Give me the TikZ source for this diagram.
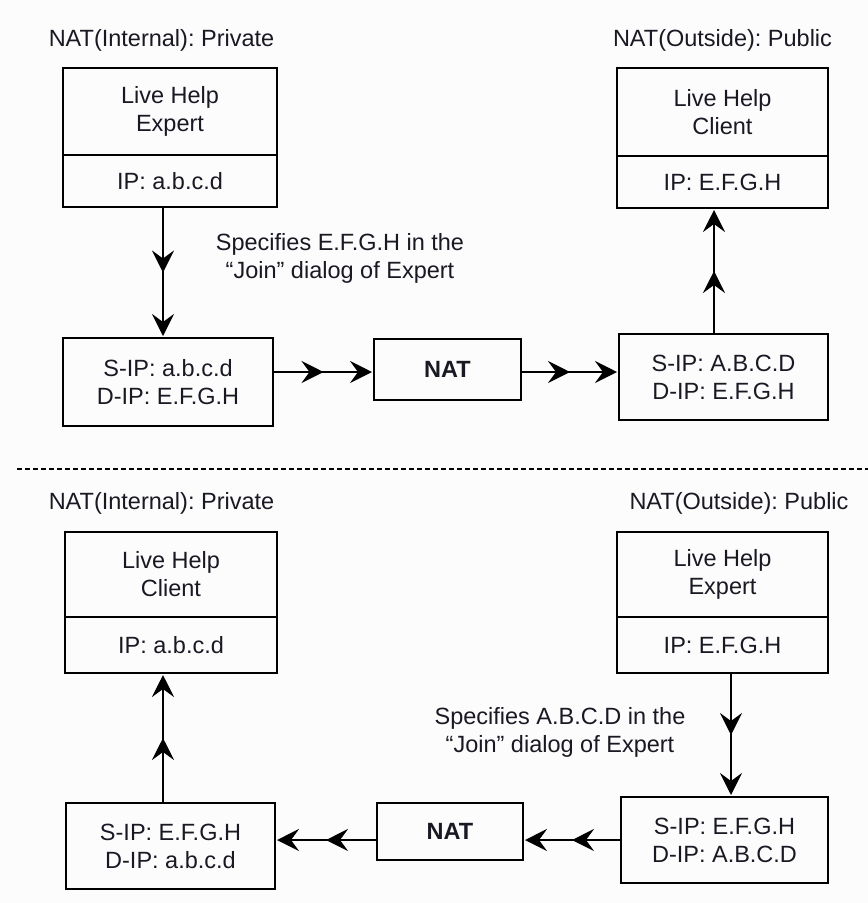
\documentclass[tikz,border=0pt]{standalone}
\usepackage{fontspec}
\setmainfont{Liberation Sans}
\usetikzlibrary{arrows.meta,decorations.markings}
\definecolor{bgc}{RGB}{252,252,252}
\definecolor{txt}{RGB}{25,25,35}
\frenchspacing
\begin{document}
\begin{tikzpicture}[x=1pt,y=-1pt,
  every node/.style={font=\fontsize{23.5}{28}\selectfont, text=txt},
  box/.style={draw=black, line width=2pt, rectangle, inner sep=0pt, align=center},
  lbl/.style={inner sep=0pt, align=center},
  flow/.style={line width=2pt,
    -{Stealth[length=22pt,width=22pt,inset=8pt]}, shorten >=1pt,
    postaction={decorate},
    decoration={markings, mark=at position 0.5 with {\arrow[line width=2pt]{Stealth[length=22pt,width=22pt,inset=8pt]}}}}
]
\fill[bgc] (0,0) rectangle (868,903);
\useasboundingbox (0,0) rectangle (868,903);

% ---------- top half ----------
\node[lbl] (lblA) at (161.5,40) {NAT(Internal): Private};
\node[lbl] (lblB) at (722.5,40) {NAT(Outside): Public};

\node[box, minimum width=214pt, minimum height=87pt] (exp1) at (170,111.5) {Live Help\\Expert};
\node[box, minimum width=214pt, minimum height=52pt] (exp1ip) at (170,181) {IP: a.b.c.d};

\node[box, minimum width=211pt, minimum height=88pt] (cli1) at (722.5,112) {Live Help\\Client};
\node[box, minimum width=211pt, minimum height=52pt] (cli1ip) at (722.5,182) {IP: E.F.G.H};

\node[box, minimum width=210pt, minimum height=88pt] (src1) at (168,382) {S-IP: a.b.c.d\\D-IP: E.F.G.H};
\node[box, minimum width=147pt, minimum height=61pt] (nat1) at (447.5,369) {\textbf{NAT}};
\node[box, minimum width=209pt, minimum height=86pt] (dst1) at (723.5,377) {S-IP: A.B.C.D\\D-IP: E.F.G.H};

\node[lbl] (spec1) at (340,258.5) {Specifies E.F.G.H in the\\``Join'' dialog of Expert};

\draw[flow] ([xshift=-7pt]exp1ip.south) -- ([xshift=-5pt]src1.north);
\draw[flow] ([yshift=10pt]src1.east) -- ([yshift=-3pt]nat1.west);
\draw[flow] ([yshift=-3pt]nat1.east) -- ([yshift=5pt]dst1.west);
\draw[flow] ([xshift=-9.5pt]dst1.north) -- ([xshift=-8.5pt]cli1ip.south);

% ---------- separator ----------
\coordinate (sepL) at (17,469);
\coordinate (sepR) at (868,469);
\draw[line width=1.3pt, dash pattern=on 5pt off 3pt] (sepL) -- (sepR);

% ---------- bottom half ----------
\node[lbl] (lblC) at (161.5,503) {NAT(Internal): Private};
\node[lbl] (lblD) at (739,503) {NAT(Outside): Public};

\node[box, minimum width=212pt, minimum height=85pt] (cli2) at (171,574.5) {Live Help\\Client};
\node[box, minimum width=212pt, minimum height=56pt] (cli2ip) at (171,645) {IP: a.b.c.d};

\node[box, minimum width=211pt, minimum height=85pt] (exp2) at (722.5,574.5) {Live Help\\Expert};
\node[box, minimum width=211pt, minimum height=56pt] (exp2ip) at (722.5,645) {IP: E.F.G.H};

\node[lbl] (spec2) at (560,732.5) {Specifies A.B.C.D in the\\``Join'' dialog of Expert};

\node[box, minimum width=207pt, minimum height=86pt] (src2) at (724.5,840) {S-IP: E.F.G.H\\D-IP: A.B.C.D};
\node[box, minimum width=146pt, minimum height=57pt] (nat2) at (450,831.5) {\textbf{NAT}};
\node[box, minimum width=209pt, minimum height=86pt] (src3) at (170.5,846) {S-IP: E.F.G.H\\D-IP: a.b.c.d};

\draw[flow] ([xshift=8.5pt]exp2ip.south) -- ([xshift=6.5pt]src2.north);
\draw[flow] (src2.west) -- ([yshift=-8.5pt]nat2.east);
\draw[flow] ([yshift=-8.5pt]nat2.west) -- ([yshift=6pt]src3.east);
\draw[flow] ([xshift=-7.5pt]src3.north) -- ([xshift=-8pt]cli2ip.south);
\end{tikzpicture}
\end{document}
